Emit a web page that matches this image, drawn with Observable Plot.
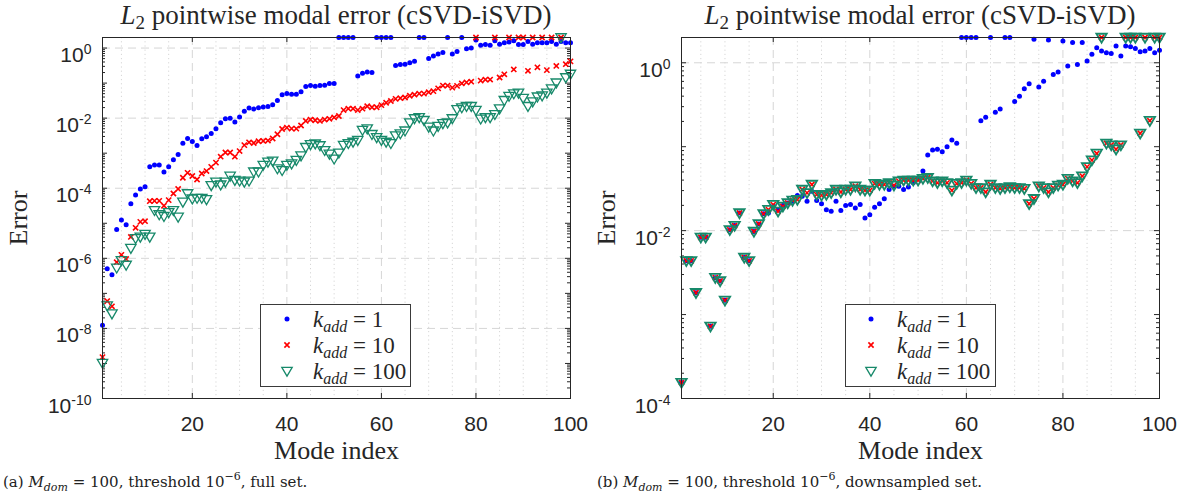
<!DOCTYPE html>
<html><head><meta charset="utf-8">
<script src="https://cdn.jsdelivr.net/npm/d3@7"></script>
<script src="https://cdn.jsdelivr.net/npm/@observablehq/plot@0.6"></script>
<style>
html,body{margin:0;padding:0;background:#fff}
body{width:1184px;height:502px;position:relative;overflow:hidden}
.abs{position:absolute}
.title{font-family:"Liberation Serif",serif;font-size:27px;line-height:27px;color:#262626;white-space:nowrap;transform:translateX(-50%)}
.caption{font-family:"DejaVu Serif",serif;font-size:15px;line-height:15px;color:#222;white-space:nowrap}
.legend{position:absolute;background:#fff;border:1px solid #3a3a3a;box-sizing:border-box}
.leg-text{position:absolute;font-family:"Liberation Serif",serif;font-size:23px;line-height:23px;color:#262626;white-space:nowrap}
.sub{font-size:16px;position:relative;top:5px}
.csub{font-size:11px;position:relative;top:4px}
.csup{font-size:11px;position:relative;top:-7px}
</style></head><body>
<div id="left" class="abs" style="left:0;top:0"></div>
<div id="right" class="abs" style="left:590px;top:0"></div>
<div class="abs title" style="left:336px;top:2px"><i>L</i><span class="sub" style="font-size:19px">2</span> pointwise modal error (cSVD-iSVD)</div>
<div class="abs title" style="left:920px;top:2px"><i>L</i><span class="sub" style="font-size:19px">2</span> pointwise modal error (cSVD-iSVD)</div>
<div class="abs caption" style="left:3px;top:475px">(a) <i>M</i><i class="csub">dom</i> = 100, threshold 10<span class="csup">−6</span>, full set.</div>
<div class="abs caption" style="left:597px;top:475px">(b) <i>M</i><i class="csub">dom</i> = 100, threshold 10<span class="csup">−6</span>, downsampled set.</div>
<script>
// ---------------- data (log10 of the error) ----------------
const modeIndex = d3.range(1, 101);
const seriesLabels = ["1", "10", "100"]; // k_add values

// (a) full set
const leftK1Exp = [
-7.91,-6.30,-6.47,-5.18,-4.91,-5.04,-4.44,-4.19,-4.02,-3.96,
-3.39,-3.34,-3.34,-3.54,-3.39,-3.19,-3.04,-2.72,-2.58,-2.67,
-2.78,-2.59,-2.53,-2.44,-2.30,-2.13,-2.02,-2.00,-2.11,-1.97,
-1.80,-1.71,-1.74,-1.70,-1.68,-1.67,-1.62,-1.50,-1.33,-1.30,
-1.32,-1.32,-1.25,-1.10,-1.07,-1.09,-1.07,-1.06,-1.01,-1.01,
0.301,0.301,0.301,0.301,-0.80,-0.72,-0.68,-0.70,0.301,0.301,
0.301,0.301,-0.50,-0.47,-0.46,-0.42,-0.38,0.301,0.301,-0.30,
-0.23,-0.17,-0.13,0.301,-0.17,-0.10,0.301,-0.02,0.00,0.23,
0.08,0.10,0.08,0.21,0.11,0.15,0.17,0.21,0.10,0.10,
0.19,0.11,0.15,0.15,0.15,0.19,0.11,0.19,0.15,0.15];
const leftK10Exp = [
-8.82,-7.22,-7.37,-6.11,-5.90,-6.02,-5.39,-5.13,-4.96,-4.94,
-4.37,-4.36,-4.36,-4.50,-4.34,-4.15,-4.02,-3.70,-3.56,-3.65,
-3.75,-3.58,-3.51,-3.39,-3.27,-3.10,-2.98,-2.98,-3.10,-2.94,
-2.77,-2.69,-2.71,-2.66,-2.65,-2.64,-2.58,-2.46,-2.31,-2.27,
-2.30,-2.30,-2.21,-2.08,-2.04,-2.06,-2.08,-2.04,-2.02,-1.98,
-1.94,-1.77,-1.73,-1.73,-1.77,-1.73,-1.66,-1.69,-1.69,-1.63,
-1.56,-1.51,-1.45,-1.43,-1.41,-1.36,-1.33,-1.30,-1.30,-1.26,
-1.23,-1.15,-1.07,-1.07,-1.13,-1.08,-1.01,-0.98,-0.96,0.301,
-0.93,-0.90,-0.90,0.301,-0.84,-0.75,0.301,-0.61,0.301,0.301,
-0.65,0.301,-0.55,0.301,-0.63,0.301,-0.51,0.301,-0.46,-0.38];
const leftK100Exp = [
-8.99,-7.35,-7.58,-6.27,-6.06,-6.19,-5.71,-5.43,-5.39,-5.31,
-5.39,-4.63,-4.75,-4.80,-4.69,-4.63,-4.82,-4.39,-4.15,-4.30,
-4.28,-4.28,-4.32,-3.92,-3.82,-3.90,-3.82,-3.65,-3.77,-3.79,
-3.82,-3.79,-3.53,-3.53,-3.34,-3.25,-3.22,-3.44,-3.49,-3.34,
-3.30,-3.20,-3.07,-2.83,-2.75,-2.73,-2.78,-2.92,-3.02,-3.16,
-2.99,-2.77,-2.72,-2.68,-2.63,-2.34,-2.30,-2.46,-2.55,-2.63,
-2.68,-2.72,-2.50,-2.44,-2.36,-2.13,-2.01,-1.98,-2.06,-2.25,
-2.36,-2.23,-2.15,-2.13,-2.01,-1.75,-1.70,-1.66,-1.66,-1.77,
-2.02,-1.98,-1.98,-1.89,-1.73,-1.49,-1.37,-1.30,-1.28,-1.43,
-1.66,-1.53,-1.39,-1.36,-1.28,-1.16,-0.99,0.301,-0.84,-0.74];

// (b) downsampled set
const rightK1Exp = [
-3.81,-2.36,-2.36,-2.74,-2.08,-2.08,-3.14,-2.56,-2.60,-2.83,
-1.99,-1.94,-1.79,-2.32,-2.36,-2.01,-1.92,-1.80,-1.79,-1.71,
-1.75,-1.70,-1.67,-1.65,-1.58,-1.59,-1.65,-1.53,-1.64,-1.68,
-1.75,-1.77,-1.65,-1.76,-1.70,-1.69,-1.73,-1.69,-1.85,-1.81,
-1.72,-1.68,-1.62,-1.51,-1.47,-1.47,-1.51,-1.48,-1.43,-1.38,
-1.29,-1.10,-1.04,-1.03,-1.06,-1.00,-0.92,-0.96,0.301,0.301,
0.301,0.301,-0.69,-0.65,0.301,-0.59,-0.55,0.301,0.301,-0.46,
-0.40,-0.31,-0.25,0.28,-0.29,-0.22,0.27,-0.14,-0.11,0.26,
-0.04,0.24,-0.02,0.24,0.02,0.10,0.18,0.14,0.12,0.11,
0.20,0.08,0.20,0.19,0.17,0.13,0.14,0.17,0.12,0.15];
const rightK10Exp = [
-3.81,-2.36,-2.36,-2.74,-2.08,-2.08,-3.14,-2.56,-2.60,-2.83,
-1.99,-1.94,-1.79,-2.32,-2.36,-2.01,-1.92,-1.80,-1.75,-1.69,
-1.77,-1.71,-1.67,-1.64,-1.63,-1.51,-1.55,-1.45,-1.57,-1.58,
-1.57,-1.55,-1.51,-1.54,-1.51,-1.51,-1.47,-1.51,-1.52,-1.52,
-1.44,-1.45,-1.45,-1.43,-1.46,-1.41,-1.40,-1.40,-1.40,-1.40,
-1.38,-1.37,-1.41,-1.43,-1.41,-1.43,-1.52,-1.44,-1.43,-1.40,
-1.44,-1.49,-1.49,-1.54,-1.45,-1.49,-1.50,-1.49,-1.48,-1.49,
-1.49,-1.50,-1.68,-1.62,-1.47,-1.49,-1.54,-1.49,-1.46,-1.45,
-1.38,-1.41,-1.43,-1.35,-1.24,-1.16,-1.08,0.301,-0.96,-0.98,
-1.03,-0.98,0.301,0.301,0.301,-0.84,0.301,-0.69,0.301,0.301];
const rightK100Exp = [
-3.81,-2.36,-2.36,-2.74,-2.08,-2.08,-3.14,-2.56,-2.60,-2.83,
-1.99,-1.94,-1.79,-2.32,-2.36,-2.01,-1.92,-1.80,-1.75,-1.69,
-1.77,-1.71,-1.67,-1.64,-1.63,-1.51,-1.55,-1.45,-1.57,-1.58,
-1.57,-1.55,-1.51,-1.54,-1.51,-1.51,-1.47,-1.51,-1.52,-1.52,
-1.44,-1.45,-1.45,-1.43,-1.46,-1.41,-1.40,-1.40,-1.40,-1.40,
-1.38,-1.37,-1.41,-1.43,-1.41,-1.43,-1.52,-1.44,-1.43,-1.40,
-1.44,-1.49,-1.49,-1.54,-1.45,-1.49,-1.50,-1.49,-1.48,-1.49,
-1.49,-1.50,-1.68,-1.62,-1.47,-1.49,-1.54,-1.49,-1.46,-1.45,
-1.38,-1.41,-1.43,-1.35,-1.24,-1.16,-1.08,0.301,-0.96,-0.98,
-1.03,-0.98,0.301,0.301,0.301,-0.84,0.301,-0.69,0.301,0.301];

const xTicks = [20, 40, 60, 80, 100];
const xMajorGrid = [20, 40, 60, 80];
const xMinorGrid = [5,10,15,25,30,35,45,50,55,65,70,75,85,90,95];
const leftYTicks = [1e0, 1e-2, 1e-4, 1e-6, 1e-8, 1e-10];
const leftYGrid = [1e0, 1e-2, 1e-4, 1e-6, 1e-8];
const rightYTicks = [1e0, 1e-2, 1e-4];
const rightYGrid = [1e0, 1e-2];

// ---------------- styling ----------------
const COLORS = ["#0000ff", "#ff0000", "#17896a"];
const INK = "#262626";
const GRID = "#d6d6d6";
const crossSymbol = {draw(ctx, size){const a=Math.sqrt(size/Math.PI); ctx.moveTo(-a,-a); ctx.lineTo(a,a); ctx.moveTo(-a,a); ctx.lineTo(a,-a);}};
const triDownSymbol = {draw(ctx, size){const a=Math.sqrt(size/Math.PI); ctx.moveTo(-a,-0.72*a); ctx.lineTo(a,-0.72*a); ctx.lineTo(0,a); ctx.closePath();}};

function rows(exps){ return modeIndex.map((m, j) => ({mode: m, err: Math.pow(10, exps[j])})); }

function panel(o){
  const height = 465, marginTop = 37, marginBottom = 67;
  const fw = o.width - o.marginLeft - o.marginRight, fh = height - marginTop - marginBottom;
  const lo = Math.round(Math.log10(o.yDomain[0])), hi = Math.ceil(Math.log10(o.yDomain[1]));
  const major = [], minor = [];
  for (let k = lo; k < hi; k++) {
    major.push(Math.pow(10, k));
    for (let m = 2; m <= 9; m++) { const v = m * Math.pow(10, k); if (v < o.yDomain[1]) minor.push(v); }
  }
  const plot = Plot.plot({
    width: o.width, height, marginLeft: o.marginLeft, marginRight: o.marginRight, marginTop, marginBottom,
    style: {fontFamily: "'Liberation Sans', Arial, sans-serif", fontSize: "21px", color: INK, background: "transparent", overflow: "visible"},
    x: {domain: [1, 100], label: null},
    y: {type: "log", domain: o.yDomain, label: null},
    marks: [
      Plot.ruleX(xMinorGrid, {x: d => d, stroke: GRID, strokeDasharray: "1.2,3"}),
      Plot.ruleX(xMajorGrid, {x: d => d, stroke: GRID, strokeDasharray: "8,5"}),
      Plot.ruleY(o.yGrid, {y: d => d, stroke: GRID, strokeDasharray: "8,5"}),
      Plot.tickX(xTicks, {x: d => d, insetTop: fh - 5, stroke: INK}),
      Plot.tickX(xTicks, {x: d => d, insetBottom: fh - 5, stroke: INK}),
      Plot.tickY(major, {y: d => d, insetRight: fw - 5, stroke: INK}),
      Plot.tickY(major, {y: d => d, insetLeft: fw - 5, stroke: INK}),
      Plot.tickY(minor, {y: d => d, insetRight: fw - 3, stroke: INK}),
      Plot.tickY(minor, {y: d => d, insetLeft: fw - 3, stroke: INK}),
      Plot.dot(rows(o.series[0]), {x: "mode", y: "err", r: 2.5, fill: COLORS[0], stroke: "none"}),
      Plot.dot(rows(o.series[1]), {x: "mode", y: "err", r: 2.6, symbol: crossSymbol, fill: "none", stroke: COLORS[1], strokeWidth: 1.6}),
      Plot.dot(rows(o.series[2]), {x: "mode", y: "err", r: 5.2, symbol: triDownSymbol, fill: "none", stroke: COLORS[2], strokeWidth: o.triStroke}),
      Plot.frame({stroke: INK, strokeWidth: 1}),
      Plot.axisX(xTicks, {tickSize: 0, tickPadding: 18, fill: INK, label: null}),
      Plot.axisY(o.yTicks, {tickSize: 0, tickPadding: 11, fill: INK, label: null, tickFormat: d => "10^" + Math.round(Math.log10(d))}),
      Plot.text(["Mode index"], {text: d => d, frameAnchor: "bottom", lineAnchor: "middle", textAnchor: "middle", dy: 52, fontFamily: "'Liberation Serif', serif", fontSize: 26, fill: INK}),
      Plot.text(["Error"], {text: d => d, frameAnchor: "left", lineAnchor: "middle", textAnchor: "middle", dx: o.labelDx, rotate: -90, fontFamily: "'Liberation Serif', serif", fontSize: 26, fill: INK})
    ]
  });
  // superscript exponents on the log tick labels
  d3.select(plot).selectAll("text").filter(function(){ return this.textContent.includes("^") && this.children.length === 0; }).each(function(){
    const t = d3.select(this);
    const [base, exp] = this.textContent.split("^");
    if (t.attr("transform")) t.attr("y", null);
    t.attr("dy", null).text(null);
    t.append("tspan").attr("dy", 14).text(base);
    t.append("tspan").attr("dy", -8).attr("font-size", 14).text(exp);
  });
  return plot;
}

document.getElementById("left").appendChild(panel({
  width: 590, marginLeft: 102, marginRight: 20, yDomain: [1e-10, 2], yTicks: leftYTicks, yGrid: leftYGrid,
  series: [leftK1Exp, leftK10Exp, leftK100Exp], labelDx: -84, triStroke: 1.3
}));
document.getElementById("right").appendChild(panel({
  width: 594, marginLeft: 91, marginRight: 25, yDomain: [1e-4, 2], yTicks: rightYTicks, yGrid: rightYGrid,
  series: [rightK1Exp, rightK10Exp, rightK100Exp], labelDx: -75, triStroke: 1.8
}));

// ---------------- legends ----------------
const markerSvgs = [
  `<circle cx="10" cy="10" r="2.5" fill="${COLORS[0]}"/>`,
  `<path d="M7.4,7.4L12.6,12.6M7.4,12.6L12.6,7.4" stroke="${COLORS[1]}" stroke-width="1.6" fill="none"/>`,
  `<path d="M4.8,6.3L15.2,6.3L10,15.2Z" stroke="${COLORS[2]}" stroke-width="1.3" fill="none"/>`
];
function legend(boxLeft, markerX, textX){
  const top = 304, rowsY = [319, 345, 371];
  const box = document.createElement("div");
  box.className = "legend";
  box.style.cssText = `left:${boxLeft}px;top:${top}px;width:151px;height:83px`;
  document.body.appendChild(box);
  seriesLabels.forEach((lab, j) => {
    const s = document.createElement("div");
    s.innerHTML = `<svg width="20" height="20">${markerSvgs[j]}</svg>`;
    s.style.cssText = `position:absolute;left:${markerX - 10}px;top:${rowsY[j] - 10}px;width:20px;height:20px;line-height:0`;
    document.body.appendChild(s);
    const t = document.createElement("div");
    t.className = "leg-text";
    t.style.left = textX + "px";
    t.style.top = (rowsY[j] - 11.5) + "px";
    t.innerHTML = `<i>k</i><i class="sub">add</i> = ${lab}`;
    document.body.appendChild(t);
  });
}
legend(260, 287, 313);
legend(845, 871, 897);
</script>
</body></html>
